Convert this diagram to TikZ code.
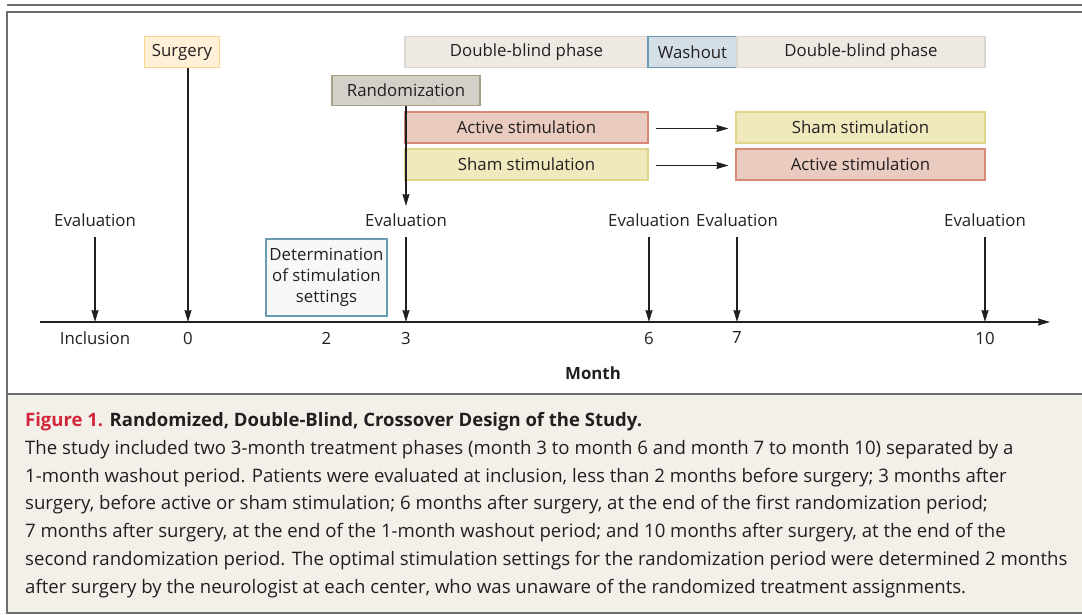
\documentclass[tikz,border=0pt]{standalone}
\usepackage{fontspec}
\setmainfont{Open Sans}
\usetikzlibrary{arrows.meta}

\definecolor{ink}{HTML}{231F20}
\definecolor{framegray}{HTML}{6D6E70}
\definecolor{capbg}{HTML}{F3F0EA}
\definecolor{figred}{HTML}{D3263A}
\definecolor{surgfill}{HTML}{FEF1D8}
\definecolor{surgline}{HTML}{FBD38F}
\definecolor{phasefill}{HTML}{EEE9E3}
\definecolor{phaseline}{HTML}{DAD6D0}
\definecolor{washfill}{HTML}{D4DEE6}
\definecolor{blueline}{HTML}{6A9BB5}
\definecolor{randfill}{HTML}{D3D0CA}
\definecolor{randline}{HTML}{A59F86}
\definecolor{actfill}{HTML}{EACBC0}
\definecolor{actline}{HTML}{D98777}
\definecolor{shamfill}{HTML}{EFE9BD}
\definecolor{shamline}{HTML}{E0D688}
\definecolor{detfill}{HTML}{F6F8F9}

\begin{document}
\begin{tikzpicture}[x=1pt,y=-1pt,
    every node/.style={text=ink, font=\fontsize{16.8}{20}\selectfont},
    box/.style={line width=1.2pt, minimum height=31pt, inner sep=0pt},
    arr/.style={draw=ink, line width=1.3pt, -{Stealth[length=12pt,width=7pt,inset=1pt]}},
    caption/.style={font=\fontsize{18.6}{27.8}\selectfont, anchor=north west, inner sep=0pt}
  ]
  \useasboundingbox (0,0) rectangle (1082,615);
  \clip (0,0) rectangle (1082,615);

  % frame and caption panel
  \draw[framegray, line width=2.2pt] (7,5) -- (1090,5);
  \fill[capbg] (7,394) rectangle (1090,613);
  \draw[framegray, line width=2pt] (7,12) rectangle (1090,613);
  \draw[framegray, line width=2pt] (7,394) -- (1090,394);

  % phases
  \node[box, draw=surgline, fill=surgfill, minimum width=75pt] (surg) at (182,52) {Surgery};
  \node[box, draw=phaseline, fill=phasefill, minimum width=243pt] (db1) at (526.5,52) {Double-blind phase};
  \node[box, draw=blueline, fill=washfill, minimum width=89pt] (wash) at (692.5,52) {Washout};
  \node[box, draw=phaseline, fill=phasefill, minimum width=248pt] (db2) at (861,52) {Double-blind phase};
  \node[box, draw=randline, fill=randfill, minimum width=148pt, minimum height=30pt] (rand) at (406,90.5) {Randomization};

  % treatment arms
  \node[box, draw=actline, fill=actfill, minimum width=243pt] (act1) at (526.5,127.5) {Active stimulation};
  \node[box, draw=shamline, fill=shamfill, minimum width=243pt] (sham1) at (526.5,164.5) {Sham stimulation};
  \node[box, draw=shamline, fill=shamfill, minimum width=249pt] (sham2) at (860.5,127.5) {Sham stimulation};
  \node[box, draw=actline, fill=actfill, minimum width=249pt] (act2) at (860.5,164.5) {Active stimulation};
  \draw[arr] ([xshift=7pt,yshift=-1pt]act1.east) -- ([xshift=-7pt,yshift=-1pt]sham2.west);
  \draw[arr] ([xshift=7pt,yshift=-1pt]sham1.east) -- ([xshift=-7pt,yshift=-1pt]act2.west);

  % time axis
  \coordinate (ax0) at (40,322);
  \coordinate (ax1) at (1050,322);
  \coordinate (mI) at (95,322);
  \coordinate (m0) at (188,322);
  \coordinate (m2) at (326.5,322);
  \coordinate (m3) at (406,322);
  \coordinate (m6) at (649,322);
  \coordinate (m7) at (737,322);
  \coordinate (m10) at (985,322);
  \draw[arr] (ax0) -- (ax1);

  \node (lI) at (95,338) {Inclusion};
  \node (l0) at (188,338) {0};
  \node (l2) at (326.5,338) {2};
  \node (l3) at (406,338) {3};
  \node (l6) at (649,338) {6};
  \node (l7) at (737,338) {7};
  \node (l10) at (985,338) {10};
  \node[font=\fontsize{16.8}{20}\selectfont\bfseries] (month) at (593,373) {Month};

  % evaluations
  \node (evI) at (95,220) {Evaluation};
  \node (ev3) at (406,220) {Evaluation};
  \node (ev6) at (649,220) {Evaluation};
  \node (ev7) at (737,220) {Evaluation};
  \node (ev10) at (985,220) {Evaluation};
  \draw[arr, shorten <=7pt] (evI.south) -- (mI);
  \draw[arr, shorten <=7pt] (ev3.south) -- (m3);
  \draw[arr, shorten <=7pt] (ev6.south) -- (m6);
  \draw[arr, shorten <=7pt] (ev7.south) -- (m7);
  \draw[arr, shorten <=7pt] (ev10.south) -- (m10);
  \draw[arr] (surg.south -| m0) -- (m0);
  \draw[arr, shorten >=4pt] (rand.south) -- (ev3.north);

  \node[box, draw=blueline, fill=detfill, minimum width=121pt, minimum height=77pt,
    align=center, font=\fontsize{16.8}{20.8}\selectfont] (det) at (326.5,277.5)
    {Determination\\of stimulation\\settings};

  % caption
  \node[caption, font=\fontsize{18.5}{22}\selectfont] (title) at (25,412)
    {\bfseries\textcolor{figred}{Figure 1.} Randomized, Double-Blind, Crossover Design of the Study.};
  \node[caption, align=left] (body) at (25,440)
    {The study included two 3-month treatment phases (month 3 to month 6 and month 7 to month 10) separated by a\\
     1-month washout period. Patients were evaluated at inclusion, less than 2 months before surgery; 3 months after\\
     surgery, before active or sham stimulation; 6 months after surgery, at the end of the first randomization period;\\
     7 months after surgery, at the end of the 1-month washout period; and 10 months after surgery, at the end of the\\
     second randomization period. The optimal stimulation settings for the randomization period were determined 2 months\\
     after surgery by the neurologist at each center, who was unaware of the randomized treatment assignments.};
\end{tikzpicture}
\end{document}
